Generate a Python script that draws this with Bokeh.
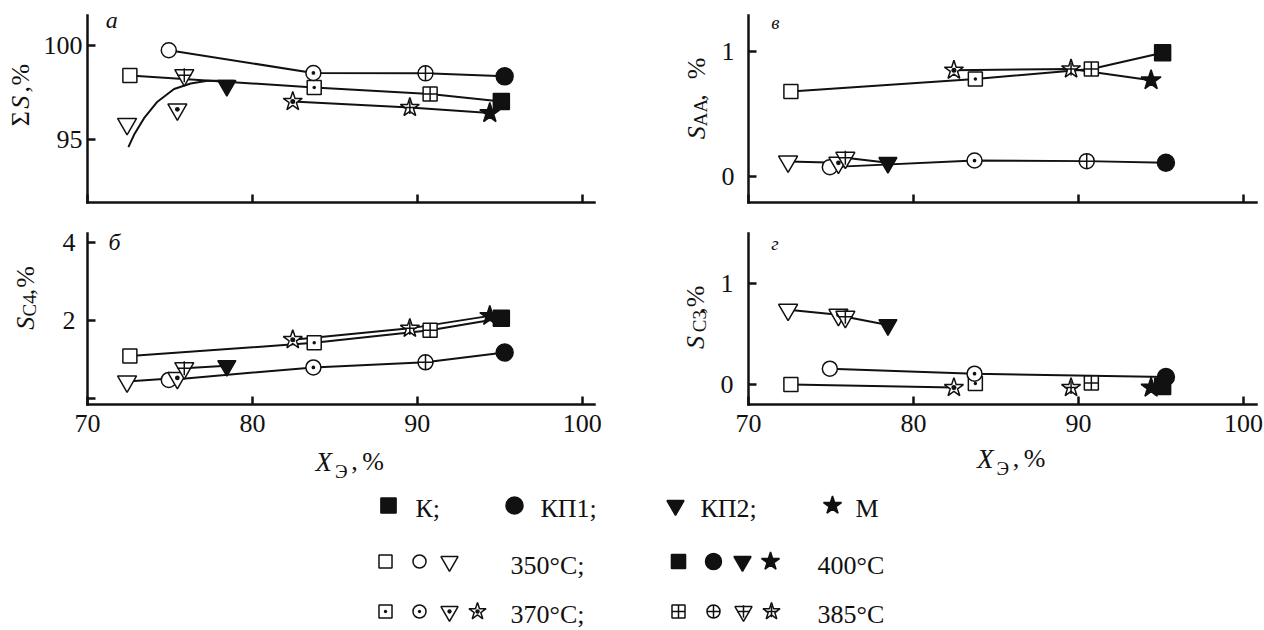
import numpy as np
from bokeh.plotting import figure
from bokeh.models import Range1d, FixedTicker, Label
from bokeh.layouts import column, row
from bokeh.embed import file_html
from bokeh.resources import INLINE
from bokeh.core.properties import value

INK = "#111111"
SERIF = "Liberation Serif"

# ---------------- data ----------------
x_ticks = [70, 80, 90, 100]
temps = [350, 370, 385, 400]
# conversion X_E, % at 350, 370, 385, 400 °C
X_K = [72.57, 83.75, 90.78, 95.10]
X_KP1 = [74.93, 83.70, 90.50, 95.30]
X_KP2 = [72.40, 75.45, 75.87, 78.45]
X_M = [82.45, 89.55, 94.40]          # 370, 385, 400 °C

# panel а : ΣS, %
a_K = [98.42, 97.77, 97.43, 97.02]
a_KP1 = [99.77, 98.55, 98.53, 98.37]
a_KP2 = [95.82, 96.60, 98.43, 97.87]
a_M = [97.02, 96.70, 96.40]
a_fit_x = [72.48, 72.83, 73.43, 74.24, 75.25, 76.26, 77.27, 78.88]
a_fit_y = [94.58, 95.25, 96.13, 97.01, 97.69, 97.99, 98.13, 98.13]
a_yticks = [95, 100]

# panel б : S_C4, %
b_K = [1.08, 1.42, 1.74, 2.05]
b_KP1 = [0.47, 0.79, 0.92, 1.17]
b_KP2 = [0.43, 0.52, 0.77, 0.83]
b_M = [1.50, 1.79, 2.11]
b_yticks = [0, 2, 4]

# panel в : S_AA, %
v_K = [0.68, 0.78, 0.86, 0.99]
v_KP1 = [0.075, 0.128, 0.123, 0.11]
v_KP2 = [0.12, 0.11, 0.15, 0.11]
v_M = [0.85, 0.86, 0.77]
v_yticks = [0, 1]

# panel г : S_C3, %
g_K = [0.0, 0.01, 0.015, -0.02]
g_KP1 = [0.157, 0.108, float("nan"), 0.075]
g_KP2 = [0.74, 0.69, 0.67, 0.59]
g_M = [-0.03, -0.03, -0.03]
g_yticks = [0, 1]

legend_names = ["К;", "КП1;", "КП2;", "М"]
legend_temps = ["350°C;", "400°C", "370°C;", "385°C"]

# ---------------- marker styles ----------------
STYLE = {
    "sq_open": [("square", 14, "white", 0)],
    "sq_dot": [("square_dot", 14, "white", 0)],
    "sq_cross": [("square_cross", 14, "white", 0)],
    "sq_fill": [("square", 16, INK, 0)],
    "ci_open": [("circle", 15, "white", 0)],
    "ci_dot": [("circle_dot", 15, "white", 0)],
    "ci_cross": [("circle_cross", 15, "white", 0)],
    "ci_fill": [("circle", 17, INK, 0)],
    "tr_open": [("inverted_triangle", 19, "white", 0)],
    "tr_dot": [("triangle_dot", 19, "white", np.pi)],
    "tr_cross": [("inverted_triangle", 19, "white", 0), ("cross", 14, None, 0)],
    "tr_fill": [("inverted_triangle", 18, INK, 0)],
    "st_dot": [("star_dot", 20, "white", 0)],
    "st_cross": [("star", 20, "white", 0), ("cross", 13, None, 0)],
    "st_fill": [("star", 21, INK, 0)],
}
K_kinds = ["sq_open", "sq_dot", "sq_cross", "sq_fill"]
KP1_kinds = ["ci_open", "ci_dot", "ci_cross", "ci_fill"]
KP2_kinds = ["tr_open", "tr_dot", "tr_cross", "tr_fill"]
M_kinds = ["st_dot", "st_cross", "st_fill"]


def add_points(p, xs, ys, kinds, scale=1.0):
    for x, y, k in zip(xs, ys, kinds):
        if y is None or np.isnan(y):
            continue
        for mk, sz, fill, ang in STYLE[k]:
            p.scatter([x], [y], marker=mk, size=sz * scale, fill_color=fill,
                      line_color=INK, line_width=1.5, angle=ang)


def add_line(p, xs, ys):
    pts = [(x, y) for x, y in zip(xs, ys) if not np.isnan(y)]
    p.line([q[0] for q in pts], [q[1] for q in pts], line_color=INK, line_width=2)


def make_panel(width, height, xr, yr, yticks, borders, ystand, show_x):
    p = figure(width=width, height=height, x_range=Range1d(*xr), y_range=Range1d(*yr),
               output_backend="svg", toolbar_location=None, tools="")
    p.min_border_left, p.min_border_right, p.min_border_top, p.min_border_bottom = borders
    p.grid.visible = False
    p.outline_line_color = None
    p.background_fill_color = "white"
    p.border_fill_color = "white"
    for ax in (p.xaxis[0], p.yaxis[0]):
        ax.axis_line_width = 2.5
        ax.axis_line_color = INK
        ax.axis_line_cap = "square"
        ax.major_tick_line_width = 2.5
        ax.major_tick_line_color = INK
        ax.major_tick_in = 8
        ax.major_tick_out = 0
        ax.minor_tick_line_color = None
        ax.major_label_text_font = SERIF
        ax.major_label_text_font_size = "26px"
        ax.major_label_text_color = INK
    p.xaxis.ticker = FixedTicker(ticks=x_ticks)
    p.yaxis.ticker = FixedTicker(ticks=yticks)
    p.yaxis.major_label_standoff = ystand
    if show_x:
        p.xaxis.major_label_standoff = 10
    else:
        p.xaxis.major_label_standoff = 0
        p.xaxis.major_label_text_font_size = "0px"
        p.xaxis.major_label_overrides = {t: "" for t in x_ticks}
    return p


def blank(width, height, x0, y0):
    # helper canvas whose data coordinates are page pixels (y stored negated)
    f = figure(width=width, height=height, x_range=Range1d(x0, x0 + width),
               y_range=Range1d(-(y0 + height), -y0), output_backend="svg",
               toolbar_location=None, tools="", min_border=0)
    f.axis.visible = False
    f.grid.visible = False
    f.outline_line_color = None
    f.background_fill_color = "white"
    f.border_fill_color = "white"
    return f


def txt(f, x, y, s, size, italic=False, angle=0.0):
    # (x, y) is the centre line of the text ("middle" baseline)
    f.text(x=[x], y=[-y], text=[s], angle=angle, text_font=value(SERIF),
           text_font_size=value(f"{size}px"),
           text_font_style="italic" if italic else "normal",
           text_color=INK, text_align="left", text_baseline="middle")


def letter(p, text, sx, sy, size):
    p.add_layout(Label(x=sx, y=sy, x_units="screen", y_units="screen", text=text,
                       text_font=SERIF, text_font_size=f"{size}px", text_font_style="italic",
                       text_color=INK, text_align="left", text_baseline="middle"))


V = np.pi / 2
TOP_H, MID_H = 214, 231

# ---------------- row 1 ----------------
ya = blank(40, TOP_H, 0, 0)
txt(ya, 19.7, 126.7, "Σ", 26, angle=V)
txt(ya, 19.7, 106.7, "S", 26, italic=True, angle=V)
txt(ya, 19.7, 88.0, ",", 26, angle=V)
txt(ya, 19.7, 80.0, "%", 26, angle=V)

pa = make_panel(580, TOP_H, (70, 100.75), (91.61, 101.63), a_yticks, (47, 26, 13, 12), 5, False)
add_line(pa, X_K, a_K)
add_line(pa, X_KP1, a_KP1)
add_line(pa, X_M, a_M)
add_line(pa, a_fit_x, a_fit_y)
add_points(pa, X_K, a_K, K_kinds)
add_points(pa, X_KP1, a_KP1, KP1_kinds)
add_points(pa, X_KP2, a_KP2, KP2_kinds)
add_points(pa, X_M, a_M, M_kinds)
letter(pa, "а", 18.3, 182.4, 24)

yv = blank(96, TOP_H, 620, 0)
txt(yv, 696.4, 141.7, "S", 26, italic=True, angle=V)
txt(yv, 700.4, 126.7, "AA", 19, angle=V)
txt(yv, 696.4, 97.5, ",", 26, angle=V)
txt(yv, 696.4, 73.0, "%", 26, angle=V)

pv = make_panel(548, TOP_H, (70, 100.79), (-0.208, 1.288), v_yticks, (32, 8, 15, 12), 14, False)
add_line(pv, X_K, v_K)
add_line(pv, X_M, v_M)
add_line(pv, X_KP1, v_KP1)
add_line(pv, X_KP2, v_KP2)
add_points(pv, X_K, v_K, K_kinds)
add_points(pv, X_KP1, v_KP1, KP1_kinds)
add_points(pv, X_KP2, v_KP2, KP2_kinds)
add_points(pv, X_M, v_M, M_kinds)
letter(pv, "в", 22.7, 180.0, 19)

# ---------------- row 2 ----------------
yb = blank(40, MID_H, 0, TOP_H)
txt(yb, 24.7, 344.0, "S", 26, italic=True, angle=V)
txt(yb, 28.7, 326.0, "C4", 19, angle=V)
txt(yb, 24.7, 297.5, ",", 26, angle=V)
txt(yb, 24.7, 287.3, "%", 26, angle=V)

pb = make_panel(580, MID_H, (70, 100.75), (-0.16, 4.22), b_yticks, (47, 26, 6, 41), 12, True)
pb.yaxis.major_label_overrides = {0: ""}
add_line(pb, X_K, b_K)
add_line(pb, X_M, b_M)
add_line(pb, X_KP1, b_KP1)
add_line(pb, X_KP2, b_KP2)
add_points(pb, X_K, b_K, K_kinds)
add_points(pb, X_KP1, b_KP1, KP1_kinds)
add_points(pb, X_KP2, b_KP2, KP2_kinds)
add_points(pb, X_M, b_M, M_kinds)
letter(pb, "б", 21, 162.2, 24)

yg = blank(96, MID_H, 620, TOP_H)
txt(yg, 694.7, 370.0, "S", 26, italic=True, angle=V)
txt(yg, 698.7, 347.3, "C3", 19, angle=V)
txt(yg, 694.7, 322.5, ",", 26, angle=V)
txt(yg, 694.7, 313.5, "%", 26, angle=V)

pg = make_panel(548, MID_H, (70, 100.79), (-0.197, 1.494), g_yticks, (32, 8, 19, 40), 15, True)
add_line(pg, X_KP2, g_KP2)
add_line(pg, X_KP1, g_KP1)
add_line(pg, [X_K[0], X_M[0]], [g_K[0], g_M[0]])
add_points(pg, X_K, g_K, K_kinds)
add_points(pg, X_KP1, g_KP1, KP1_kinds)
add_points(pg, X_KP2, g_KP2, KP2_kinds)
add_points(pg, X_M, g_M, M_kinds)
letter(pg, "г", 22.7, 161.3, 19)

# ---------------- bottom: x titles + legend ----------------
LEG_Y0 = TOP_H + MID_H
leg = blank(1264, 630 - LEG_Y0, 0, LEG_Y0)
for x0, ymid in ((315.0, 461.0), (976.6, 458.0)):
    txt(leg, x0, ymid, "X", 27, italic=True)
    txt(leg, x0 + 19.5, ymid + 10.0, "Э", 19)
    txt(leg, x0 + 35.7, ymid, ",", 26)
    txt(leg, x0 + 46.7, ymid, "%", 26)

R1, R2, R3 = 505, 561, 611
leg_rows = [
    # (kind, x, y, scale)
    ("sq_fill", 388, R1, 0.95), ("ci_fill", 514, R1, 1.0), ("tr_fill", 675, R1, 0.95), ("st_fill", 832, R1, 0.9),
    ("sq_open", 385, R2, 0.93), ("ci_open", 419, R2, 0.87), ("tr_open", 449, R2, 0.9),
    ("sq_fill", 678, R2, 0.88), ("ci_fill", 713, R2, 0.94), ("tr_fill", 742, R2, 0.95), ("st_fill", 770, R2, 0.9),
    ("sq_dot", 385, R3, 0.93), ("ci_dot", 419, R3, 0.87), ("tr_dot", 449, R3, 0.9), ("st_dot", 477, R3, 0.9),
    ("sq_cross", 678, R3, 0.93), ("ci_cross", 713, R3, 0.87), ("tr_cross", 743, R3, 0.9), ("st_cross", 771, R3, 0.9),
]
for kind, lx, ly, sc in leg_rows:
    add_points(leg, [lx], [-ly], [kind], scale=sc)

leg_text_x = [415, 540, 700, 855]
for tx, s in zip(leg_text_x, legend_names):
    txt(leg, tx, R1 + 2.5, s, 26)
for tx, ty, s in zip([510, 817, 510, 817], [R2 + 4, R2 + 4, R3 + 3, R3 + 3], legend_temps):
    txt(leg, tx, ty, s, 26)

layout = column(row(ya, pa, yv, pv, spacing=0), row(yb, pb, yg, pg, spacing=0), leg, spacing=0)
open("out.html", "w").write(file_html(layout, INLINE))
